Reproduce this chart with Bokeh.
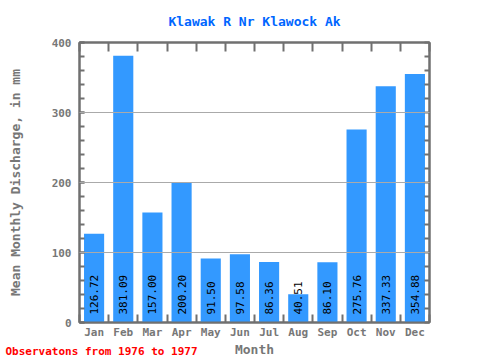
from math import pi
from bokeh.plotting import figure
from bokeh.models import (Range1d, LinearAxis, FixedTicker, ColumnDataSource, Grid, Title)
from bokeh.core.properties import value
from bokeh.embed import file_html
from bokeh.resources import INLINE

months = ["Jan", "Feb", "Mar", "Apr", "May", "Jun", "Jul", "Aug", "Sep", "Oct", "Nov", "Dec"]
discharge = [126.72, 381.09, 157.00, 200.20, 91.50, 97.58, 86.36, 40.51, 86.10, 275.76, 337.33, 354.88]
y_ticks = [0, 100, 200, 300, 400]
title_text = "Klawak R Nr Klawock Ak"
y_label = "Mean Monthly Discharge, in mm"
x_label = "Month"
note_text = "Observatons from 1976 to 1977"

FONT = "DejaVu Sans Mono"
GRAY = "#777777"
AXIS = "#707070"

pos = [i + 1 for i in range(len(months))]
bounds = [i + 0.5 for i in range(len(months) + 1)]
src = ColumnDataSource(dict(x=pos, top=discharge, lab=["%.2f" % v for v in discharge]))

p = figure(width=480, height=360, output_backend="svg", toolbar_location=None,
           x_range=Range1d(0.5, len(months) + 0.5), y_range=Range1d(0, 400),
           x_axis_type=None, y_axis_type=None,
           min_border_left=79, min_border_right=51, min_border_top=42, min_border_bottom=38)
p.outline_line_color = AXIS
p.outline_line_width = 2
p.background_fill_color = "white"
p.border_fill_color = "white"

p.title.text = title_text
p.title.align = "center"
p.title.offset = -4
p.title.standoff = 23
p.title.vertical_align = "top"
p.title.text_font = FONT
p.title.text_font_style = "bold"
p.title.text_font_size = "13px"
p.title.text_color = "#0066ff"

p.vbar(x="x", top="top", width=0.69, bottom=0, source=src, fill_color="#3399ff", line_color=None)
p.text(x="x", y=0, text="lab", source=src, angle=pi / 2, text_align="left", text_baseline="middle",
       y_offset=-8, text_font=value(FONT), text_font_size="11px", text_color="black")

def style_axis(ax):
    ax.axis_line_color = AXIS
    ax.axis_line_width = 2
    ax.major_tick_line_color = AXIS
    ax.minor_tick_line_color = AXIS
    ax.major_tick_line_width = 2
    ax.minor_tick_line_width = 2
    ax.major_label_text_font = FONT
    ax.major_label_text_font_style = "bold"
    ax.major_label_text_font_size = "11px"
    ax.major_label_text_color = GRAY

# bottom axis
xb = LinearAxis(ticker=FixedTicker(ticks=pos, minor_ticks=bounds),
                major_label_overrides={k: m for k, m in zip(pos, months)},
                axis_label=x_label)
style_axis(xb)
xb.major_tick_in = 0
xb.major_tick_out = 0
xb.minor_tick_in = 8
xb.minor_tick_out = 0
xb.major_label_standoff = 3
xb.axis_label_standoff = 0
xb.axis_label_text_font = FONT
xb.axis_label_text_font_style = "bold"
xb.axis_label_text_font_size = "13px"
xb.axis_label_text_color = GRAY
p.add_layout(xb, "below")

# note under the chart
note = Title(text=note_text, align="left", offset=-74, standoff=-30, vertical_align="top",
             text_font=FONT, text_font_style="bold", text_font_size="11px", text_color="#ff0000")
p.add_layout(note, "below")

# top axis
xt = LinearAxis(ticker=FixedTicker(ticks=[], minor_ticks=bounds))
style_axis(xt)
xt.minor_tick_in = 9
xt.minor_tick_out = 0
p.add_layout(xt, "above")

yl = LinearAxis(ticker=FixedTicker(ticks=y_ticks, minor_ticks=list(range(0, 401, 20))),
                axis_label=y_label)
style_axis(yl)
yl.major_tick_in = 5
yl.major_tick_out = 0
yl.minor_tick_in = 5
yl.minor_tick_out = 0
yl.major_label_standoff = 8
yl.axis_label_text_font = FONT
yl.axis_label_text_font_style = "bold"
yl.axis_label_text_font_size = "13px"
yl.axis_label_text_color = GRAY
yl.axis_label_standoff = 26
p.add_layout(yl, "left")

yr = LinearAxis(ticker=FixedTicker(ticks=[], minor_ticks=list(range(0, 401, 20))))
style_axis(yr)
yr.minor_tick_in = 5
yr.minor_tick_out = 0
p.add_layout(yr, "right")

g = Grid(dimension=1, ticker=FixedTicker(ticks=[100, 200, 300]), grid_line_color="#aaaaaa",
         grid_line_width=1, level="overlay")
p.add_layout(g)

open("out.html", "w").write(file_html(p, INLINE))
